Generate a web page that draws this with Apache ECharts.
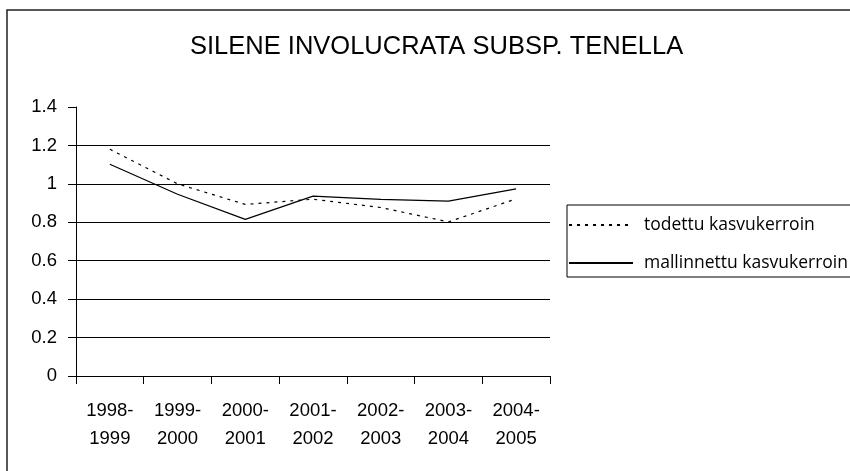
<!DOCTYPE html>
<html>
<head>
<meta charset="utf-8">
<script src="https://cdn.jsdelivr.net/npm/echarts@6/dist/echarts.min.js"></script>
<style>
  html, body { margin: 0; padding: 0; background: #fff; }
  #chart { width: 850px; height: 471px; }
</style>
</head>
<body>
<div id="chart"></div>
<script>
// data
let years = ["1998-\n1999", "1999-\n2000", "2000-\n2001", "2001-\n2002", "2002-\n2003", "2003-\n2004", "2004-\n2005"]
let todettu = [1.18, 1.0, 0.893, 0.92, 0.877, 0.802, 0.922]
let mallinnettu = [1.102, 0.946, 0.815, 0.936, 0.919, 0.91, 0.974]

var chartDom = document.getElementById('chart');
var myChart = echarts.init(chartDom);
var option;

option = {
    backgroundColor: '#ffffff',
    animation: false,
    title: {
        text: 'SILENE INVOLUCRATA SUBSP. TENELLA',
        left: 185,
        top: 29,
        textStyle: { fontFamily: 'Liberation Sans', fontWeight: 'normal', fontSize: 25.5, color: '#000' }
    },
    // outer frame of the chart area
    graphic: [
        {
            type: 'rect',
            shape: { x: 7, y: 10, width: 1000, height: 1000 },
            style: { fill: null, stroke: '#222', lineWidth: 1.5 },
            silent: true
        }
    ],
    legend: {
        orient: 'vertical',
        left: 567,
        top: 205,
        padding: [10, 10, 4, 1],
        itemGap: 18,
        itemWidth: 64,
        itemHeight: 14,
        borderColor: '#000',
        borderWidth: 1,
        // hide the symbol, keep only the line sample
        itemStyle: { opacity: 0 },
        textStyle: { fontFamily: 'Open Sans', fontSize: 17.5, lineHeight: 20, color: '#000', padding: [0, 0, 0, 6] },
        data: ['todettu kasvukerroin', 'mallinnettu kasvukerroin']
    },
    grid: { left: 76, right: 300, top: 107, bottom: 95 },
    xAxis: {
        type: 'category',
        data: years,
        axisLine: { lineStyle: { color: '#000', width: 1 } },
        axisTick: { show: true, length: 8, lineStyle: { color: '#000' } },
        axisLabel: { margin: 21, lineHeight: 28, fontFamily: 'Liberation Sans', fontSize: 18.5, color: '#000' }
    },
    yAxis: {
        type: 'value',
        min: 0,
        max: 1.4,
        interval: 0.2,
        axisLine: { show: true, lineStyle: { color: '#000', width: 1 } },
        axisTick: { show: true, length: 8, lineStyle: { color: '#000' } },
        axisLabel: { margin: 19, fontFamily: 'Liberation Sans', fontSize: 18.5, color: '#000' },
        splitLine: { show: true, showMaxLine: false, lineStyle: { color: '#000', width: 1.2 } }
    },
    series: [
        {
            name: 'todettu kasvukerroin',
            type: 'line',
            data: todettu,
            symbol: 'none',
            lineStyle: { color: '#000', width: 1.2, type: [3, 5] },
            itemStyle: { color: '#000' }
        },
        {
            name: 'mallinnettu kasvukerroin',
            type: 'line',
            data: mallinnettu,
            symbol: 'none',
            lineStyle: { color: '#000', width: 1.2 },
            itemStyle: { color: '#000' }
        }
    ]
};

option && myChart.setOption(option);
</script>
</body>
</html>
